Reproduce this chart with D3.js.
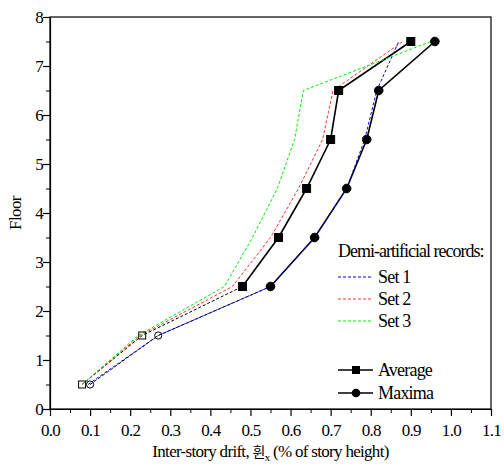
<!DOCTYPE html>
<html>
<head>
<meta charset="utf-8">
<script src="https://cdn.jsdelivr.net/npm/d3@7"></script>
<style>
  body { margin: 0; background: #fff; }
  svg, svg text { font-family: "Liberation Serif", "Times New Roman", "DejaVu Serif", serif; fill: #000; }
</style>
</head>
<body>
<svg id="chart" width="504" height="469"></svg>
<script>
// floors (mid-height of each story) and drift values
const floors = [0.5, 1.5, 2.5, 3.5, 4.5, 5.5, 6.5, 7.5];
const avgDrift = [0.08, 0.23, 0.48, 0.57, 0.64, 0.70, 0.72, 0.90];
const maxDrift = [0.10, 0.27, 0.55, 0.66, 0.74, 0.79, 0.82, 0.96];
const set1Drift = [0.095, 0.27, 0.55, 0.66, 0.74, 0.785, 0.815, 0.87];
const set2Drift = [0.08, 0.225, 0.455, 0.55, 0.62, 0.68, 0.706, 0.88];
const set3Drift = [0.08, 0.22, 0.435, 0.505, 0.567, 0.61, 0.632, 0.95];

const xTicks = [0, 0.1, 0.2, 0.3, 0.4, 0.5, 0.6, 0.7, 0.8, 0.9, 1.0, 1.1];
const yTicks = [0, 1, 2, 3, 4, 5, 6, 7, 8];
const setNames = ["Set 1", "Set 2", "Set 3"];
const setColors = ["#0000ff", "#ff3030", "#00ee00"];
const setValues = [set1Drift, set2Drift, set3Drift];

const serif = '"Liberation Serif", "Times New Roman", serif';
const svg = d3.select("#chart");
const x = d3.scaleLinear().domain([0, 1.1]).range([50, 491]);
const y = d3.scaleLinear().domain([0, 8]).range([409, 17]);

// frame
svg.append("rect")
    .attr("x", x(0)).attr("y", y(8))
    .attr("width", x(1.1) - x(0)).attr("height", y(0) - y(8))
    .attr("fill", "none").attr("stroke", "#000").attr("stroke-width", 1.2);

// minor ticks
const xMinor = d3.range(0.05, 1.1, 0.1);
const yMinor = d3.range(0.5, 8, 1);
svg.append("g").attr("transform", `translate(0,${y(0)})`)
    .call(d3.axisBottom(x).tickValues(xMinor).tickSize(4).tickSizeOuter(0).tickFormat(""))
    .call(g => g.select(".domain").remove());
svg.append("g").attr("transform", `translate(${x(0)},0)`)
    .call(d3.axisLeft(y).tickValues(yMinor).tickSize(4).tickSizeOuter(0).tickFormat(""))
    .call(g => g.select(".domain").remove());

// major axes
const xAxis = svg.append("g").attr("transform", `translate(0,${y(0)})`)
    .call(d3.axisBottom(x).tickValues(xTicks).tickSize(7).tickSizeOuter(0).tickFormat(d3.format(".1f")));
const yAxis = svg.append("g").attr("transform", `translate(${x(0)},0)`)
    .call(d3.axisLeft(y).tickValues(yTicks).tickSize(7).tickSizeOuter(0).tickFormat(d3.format("d")));
[xAxis, yAxis].forEach(a => {
    a.attr("font-family", null);
    a.selectAll("path, line").attr("stroke", "#000").attr("stroke-width", 1.2);
    a.selectAll("text").attr("font-family", serif).style("font-family", serif)
        .style("font-size", "17px").style("letter-spacing", "-0.7px");
});
xAxis.selectAll("text").attr("dy", "1.0em");
yAxis.selectAll("text").attr("x", -7);

// axis titles
svg.append("text")
    .attr("transform", `translate(21,${y(4)}) rotate(-90)`)
    .attr("text-anchor", "middle").style("font-family", serif)
    .style("font-size", "17px").style("letter-spacing", "-0.6px")
    .text("Floor");

const xt = svg.append("text")
    .attr("x", (x(0) + x(1.1)) / 2).attr("y", 457)
    .attr("text-anchor", "middle").style("font-family", serif)
    .style("font-size", "17px").style("letter-spacing", "-0.7px");
xt.append("tspan").text("Inter-story drift, ");
xt.append("tspan").style("font-family", '"Noto Sans CJK KR", sans-serif').style("font-size", "14px").text("휜");
xt.append("tspan").attr("dy", 4).style("font-size", "11px").text("x");
xt.append("tspan").attr("dy", -4).text(" (% of story height)");

// helpers
const pts = arr => arr.map((v, i) => [v, floors[i]]);
const line = d3.line().x(d => x(d[0])).y(d => y(d[1]));

// average and maxima: dashed below 2.5, solid above
function drawProfile(vals) {
    const p = pts(vals);
    svg.append("path").attr("d", line(p.slice(0, 3)))
        .attr("fill", "none").attr("stroke", "#000").attr("stroke-width", 1)
        .attr("stroke-dasharray", "3,2");
    svg.append("path").attr("d", line(p.slice(2)))
        .attr("fill", "none").attr("stroke", "#000").attr("stroke-width", 1.6);
}
drawProfile(avgDrift);
drawProfile(maxDrift);

// demi-artificial sets
setValues.forEach((vals, i) => {
    svg.append("path").attr("d", line(pts(vals)))
        .attr("fill", "none").attr("stroke", setColors[i]).attr("stroke-width", 1)
        .attr("stroke-dasharray", "3,2");
});

// markers
pts(avgDrift).forEach((d, i) => {
    const open = i < 2;
    const s = open ? 7 : 8;
    svg.append("rect")
        .attr("x", x(d[0]) - s / 2).attr("y", y(d[1]) - s / 2)
        .attr("width", s).attr("height", s)
        .attr("fill", open ? "none" : "#000").attr("stroke", "#000").attr("stroke-width", 1);
});
pts(maxDrift).forEach((d, i) => {
    const open = i < 2;
    svg.append("circle")
        .attr("cx", x(d[0])).attr("cy", y(d[1])).attr("r", open ? 3.6 : 4.3)
        .attr("fill", open ? "none" : "#000").attr("stroke", "#000").attr("stroke-width", 1);
});

// legend
const lg = svg.append("g").style("font-family", serif);
lg.append("text").attr("x", 338).attr("y", 257)
    .style("font-size", "18px").style("letter-spacing", "-1px")
    .text("Demi-artificial records:");
setNames.forEach((name, i) => {
    const ly = 277 + i * 22;
    lg.append("line").attr("x1", 338).attr("x2", 373).attr("y1", ly).attr("y2", ly)
        .attr("stroke", setColors[i]).attr("stroke-width", 1).attr("stroke-dasharray", "3,2");
    lg.append("text").attr("x", 378).attr("y", ly + 6)
        .style("font-size", "18px").style("letter-spacing", "-0.8px").text(name);
});
const profNames = ["Average", "Maxima"];
profNames.forEach((name, i) => {
    const ly = 370 + i * 23;
    lg.append("line").attr("x1", 338).attr("x2", 373).attr("y1", ly).attr("y2", ly)
        .attr("stroke", "#000").attr("stroke-width", 1.4);
    if (i === 0) {
        lg.append("rect").attr("x", 352).attr("y", ly - 4).attr("width", 8).attr("height", 8).attr("fill", "#000");
    } else {
        lg.append("circle").attr("cx", 356).attr("cy", ly).attr("r", 4.3).attr("fill", "#000");
    }
    lg.append("text").attr("x", 378).attr("y", ly + 6)
        .style("font-size", "18px").style("letter-spacing", "-0.8px").text(name);
});
</script>
</body>
</html>
